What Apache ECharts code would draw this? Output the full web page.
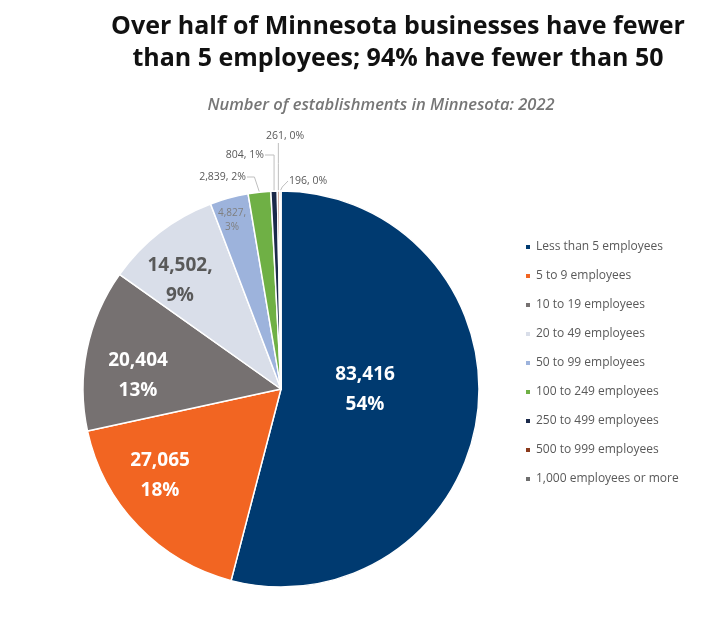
<!DOCTYPE html>
<html>
<head>
<meta charset="utf-8">
<script src="https://cdn.jsdelivr.net/npm/echarts@6/dist/echarts.min.js"></script>
<style>
  html, body { margin: 0; padding: 0; background: #fff; }
  #chart { width: 720px; height: 624px; }
</style>
</head>
<body>
<div id="chart"></div>
<script>
const categories = [
  'Less than 5 employees',
  '5 to 9 employees',
  '10 to 19 employees',
  '20 to 49 employees',
  '50 to 99 employees',
  '100 to 249 employees',
  '250 to 499 employees',
  '500 to 999 employees',
  '1,000 employees or more'
]
const counts = [83416, 27065, 20404, 14502, 4827, 2839, 804, 261, 196]
const percents = ['54%', '18%', '13%', '9%', '3%', '2%', '1%', '0%', '0%']
const colors = ['#003a70', '#f26522', '#767171', '#d9dee9', '#9db3dc', '#6fb045', '#1b2a4a', '#8a3a1c', '#6e6e6e']

// where each label sits (pixels), kept apart from the data
const labelPos = [
  [365, 390], [160, 476], [138, 376], [180, 281], [232, 220],
  [246, 177], [264, 155], [285, 136], [289, 181]
]
const labelAlign = ['center', 'center', 'center', 'center', 'center', 'right', 'right', 'center', 'left']

const fmt = n => n.toLocaleString('en-US')

const data = counts.map((v, i) => {
  let label
  if (i < 3) {
    label = { position: 'inside', formatter: fmt(v) + '\n' + percents[i], color: '#fff', fontSize: 19, fontWeight: 'bold', lineHeight: 30 }
  } else if (i === 3) {
    label = { position: 'inside', formatter: fmt(v) + ',\n' + percents[i], color: '#595959', fontSize: 19, fontWeight: 'bold', lineHeight: 30 }
  } else if (i === 4) {
    label = { position: 'inside', formatter: fmt(v) + ',\n' + percents[i], color: '#7f7f7f', fontSize: 10, lineHeight: 14 }
  } else {
    label = { position: 'outside', formatter: fmt(v) + ', ' + percents[i], color: '#595959', fontSize: 10.5 }
  }
  return {
    name: categories[i],
    value: v,
    itemStyle: { color: colors[i] },
    label: label,
    labelLine: { show: i >= 5, lineStyle: { color: '#bfbfbf', width: 1 } }
  }
})

const chart = echarts.init(document.getElementById('chart'))

// leader line: from the slice's outer arc (pie layout) to the label
function leader(i, w) {
  let lay
  try {
    lay = chart.getModel().getSeriesByIndex(0).getData().getItemLayout(i)
  } catch (e) { return null }
  if (!lay) return null
  const a = (lay.startAngle + lay.endAngle) / 2
  const ax = lay.cx + lay.r * Math.cos(a)
  const ay = lay.cy + lay.r * Math.sin(a)
  const [lx, ly] = labelPos[i]
  if (i === 5) return [[ax, ay], [ax - 5, ly], [lx + 1, ly]]
  if (i === 6) return [[ax, ay], [ax, ly], [lx + 1, ly]]
  if (i === 7) return [[ax, ay], [ax, (ay + ly) / 2], [ax, ly + 7]]
  return [[ax, ay], [ax + 2, ay - 4], [lx - 1, ly]]
}

chart.setOption({
  animation: false,
  title: [
    {
      text: 'Over half of Minnesota businesses have fewer\nthan 5 employees; 94% have fewer than 50',
      left: 393, top: 6, textAlign: 'center',
      textStyle: { fontFamily: 'Open Sans', fontSize: 25, fontWeight: 'bold', color: '#111', lineHeight: 32 }
    },
    {
      text: 'Number of establishments in Minnesota: 2022',
      left: 376, top: 92, textAlign: 'center',
      textStyle: { fontFamily: 'Open Sans', fontSize: 16.5, fontStyle: 'italic', fontWeight: 600, color: '#767676' }
    }
  ],
  legend: {
    orient: 'vertical',
    left: 519, top: 236,
    itemWidth: 6, itemHeight: 6, itemGap: 17,
    icon: 'rect',
    textStyle: { fontFamily: 'Open Sans', fontSize: 12, color: '#595959' },
    data: categories
  },
  series: [{
    type: 'pie',
    center: [281, 389],
    radius: 198,
    startAngle: 90,
    clockwise: true,
    avoidLabelOverlap: false,
    itemStyle: { borderColor: '#fff', borderWidth: 1.5 },
    label: { fontFamily: 'Open Sans' },
    labelLayout: p => {
      const out = {
        x: labelPos[p.dataIndex][0],
        y: labelPos[p.dataIndex][1],
        align: labelAlign[p.dataIndex],
        verticalAlign: 'middle'
      }
      if (p.dataIndex >= 5) {
        const pts = leader(p.dataIndex)
        if (pts) out.labelLinePoints = pts
      }
      return out
    },
    data: data
  }]
})
</script>
</body>
</html>
